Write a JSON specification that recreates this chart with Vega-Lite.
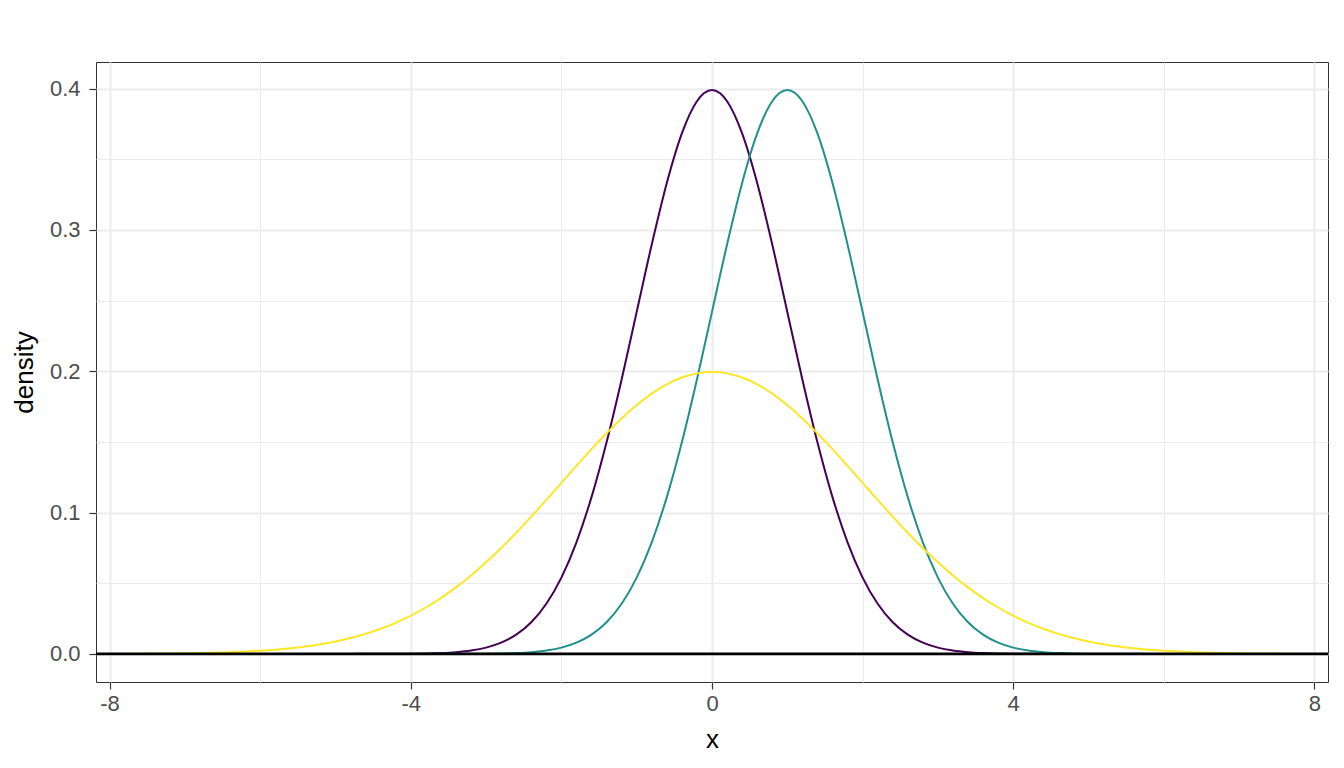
{
  "$schema": "https://vega.github.io/schema/vega-lite/v6.json",
  "autosize": {"type": "none"},
  "width": 1232,
  "height": 620,
  "padding": {"left": 96, "top": 62, "right": 16, "bottom": 86},
  "background": "white",
  "config": {
    "view": {"stroke": "#333333", "strokeWidth": 1},
    "axis": {"labelFont": "Liberation Sans", "titleFont": "Liberation Sans", "labelFontSize": 22, "labelColor": "#4D4D4D", "titleFontSize": 26, "titleFontWeight": "normal", "titleColor": "#000000", "tickColor": "#333333", "tickWidth": 1.2, "tickSize": 7, "domain": false, "gridColor": "#EBEBEB"}
  },
  "datasets": {
    "curves": [
      {"x": -7.8, "y": 0, "dist": "N(0,1)"}, {"x": -7.6, "y": 0, "dist": "N(0,1)"}, {"x": -7.4, "y": 0, "dist": "N(0,1)"}, {"x": -7.2, "y": 0, "dist": "N(0,1)"}, {"x": -7.0, "y": 0, "dist": "N(0,1)"}, {"x": -6.8, "y": 0, "dist": "N(0,1)"}, {"x": -6.6, "y": 0, "dist": "N(0,1)"}, {"x": -6.4, "y": 0, "dist": "N(0,1)"}, {"x": -6.2, "y": 0, "dist": "N(0,1)"}, {"x": -6.0, "y": 0, "dist": "N(0,1)"}, {"x": -5.8, "y": 0, "dist": "N(0,1)"}, {"x": -5.6, "y": 0, "dist": "N(0,1)"}, {"x": -5.4, "y": 0, "dist": "N(0,1)"}, {"x": -5.2, "y": 0, "dist": "N(0,1)"}, {"x": -5.0, "y": 0, "dist": "N(0,1)"}, {"x": -4.8, "y": 0, "dist": "N(0,1)"}, {"x": -4.6, "y": 0.00001, "dist": "N(0,1)"}, {"x": -4.4, "y": 0.00002, "dist": "N(0,1)"}, {"x": -4.2, "y": 0.00006, "dist": "N(0,1)"}, {"x": -4.0, "y": 0.00013, "dist": "N(0,1)"}, {"x": -3.8, "y": 0.00029, "dist": "N(0,1)"}, {"x": -3.6, "y": 0.00061, "dist": "N(0,1)"}, {"x": -3.4, "y": 0.00123, "dist": "N(0,1)"}, {"x": -3.2, "y": 0.00238, "dist": "N(0,1)"}, {"x": -3.0, "y": 0.00443, "dist": "N(0,1)"}, {"x": -2.8, "y": 0.00792, "dist": "N(0,1)"}, {"x": -2.6, "y": 0.01358, "dist": "N(0,1)"}, {"x": -2.4, "y": 0.02239, "dist": "N(0,1)"}, {"x": -2.2, "y": 0.03547, "dist": "N(0,1)"}, {"x": -2.0, "y": 0.05399, "dist": "N(0,1)"}, {"x": -1.8, "y": 0.07895, "dist": "N(0,1)"}, {"x": -1.6, "y": 0.11092, "dist": "N(0,1)"}, {"x": -1.4, "y": 0.14973, "dist": "N(0,1)"}, {"x": -1.2, "y": 0.19419, "dist": "N(0,1)"}, {"x": -1.0, "y": 0.24197, "dist": "N(0,1)"}, {"x": -0.8, "y": 0.28969, "dist": "N(0,1)"}, {"x": -0.6, "y": 0.33322, "dist": "N(0,1)"}, {"x": -0.4, "y": 0.36827, "dist": "N(0,1)"}, {"x": -0.2, "y": 0.39104, "dist": "N(0,1)"}, {"x": 0.0, "y": 0.39894, "dist": "N(0,1)"}, {"x": 0.2, "y": 0.39104, "dist": "N(0,1)"}, {"x": 0.4, "y": 0.36827, "dist": "N(0,1)"}, {"x": 0.6, "y": 0.33322, "dist": "N(0,1)"}, {"x": 0.8, "y": 0.28969, "dist": "N(0,1)"}, {"x": 1.0, "y": 0.24197, "dist": "N(0,1)"}, {"x": 1.2, "y": 0.19419, "dist": "N(0,1)"}, {"x": 1.4, "y": 0.14973, "dist": "N(0,1)"}, {"x": 1.6, "y": 0.11092, "dist": "N(0,1)"}, {"x": 1.8, "y": 0.07895, "dist": "N(0,1)"}, {"x": 2.0, "y": 0.05399, "dist": "N(0,1)"}, {"x": 2.2, "y": 0.03547, "dist": "N(0,1)"}, {"x": 2.4, "y": 0.02239, "dist": "N(0,1)"}, {"x": 2.6, "y": 0.01358, "dist": "N(0,1)"}, {"x": 2.8, "y": 0.00792, "dist": "N(0,1)"}, {"x": 3.0, "y": 0.00443, "dist": "N(0,1)"}, {"x": 3.2, "y": 0.00238, "dist": "N(0,1)"}, {"x": 3.4, "y": 0.00123, "dist": "N(0,1)"}, {"x": 3.6, "y": 0.00061, "dist": "N(0,1)"}, {"x": 3.8, "y": 0.00029, "dist": "N(0,1)"}, {"x": 4.0, "y": 0.00013, "dist": "N(0,1)"}, {"x": 4.2, "y": 0.00006, "dist": "N(0,1)"}, {"x": 4.4, "y": 0.00002, "dist": "N(0,1)"}, {"x": 4.6, "y": 0.00001, "dist": "N(0,1)"}, {"x": 4.8, "y": 0, "dist": "N(0,1)"}, {"x": 5.0, "y": 0, "dist": "N(0,1)"}, {"x": 5.2, "y": 0, "dist": "N(0,1)"}, {"x": 5.4, "y": 0, "dist": "N(0,1)"}, {"x": 5.6, "y": 0, "dist": "N(0,1)"}, {"x": 5.8, "y": 0, "dist": "N(0,1)"}, {"x": 6.0, "y": 0, "dist": "N(0,1)"}, {"x": 6.2, "y": 0, "dist": "N(0,1)"}, {"x": 6.4, "y": 0, "dist": "N(0,1)"}, {"x": 6.6, "y": 0, "dist": "N(0,1)"}, {"x": 6.8, "y": 0, "dist": "N(0,1)"}, {"x": 7.0, "y": 0, "dist": "N(0,1)"}, {"x": 7.2, "y": 0, "dist": "N(0,1)"}, {"x": 7.4, "y": 0, "dist": "N(0,1)"}, {"x": 7.6, "y": 0, "dist": "N(0,1)"}, {"x": 7.8, "y": 0, "dist": "N(0,1)"},

      {"x": -7.8, "y": 0, "dist": "N(1,1)"}, {"x": -7.0, "y": 0, "dist": "N(1,1)"}, {"x": -6.0, "y": 0, "dist": "N(1,1)"}, {"x": -5.0, "y": 0, "dist": "N(1,1)"}, {"x": -4.4, "y": 0, "dist": "N(1,1)"}, {"x": -4.0, "y": 0, "dist": "N(1,1)"}, {"x": -3.8, "y": 0, "dist": "N(1,1)"}, {"x": -3.6, "y": 0.00001, "dist": "N(1,1)"}, {"x": -3.4, "y": 0.00002, "dist": "N(1,1)"}, {"x": -3.2, "y": 0.00006, "dist": "N(1,1)"}, {"x": -3.0, "y": 0.00013, "dist": "N(1,1)"}, {"x": -2.8, "y": 0.00029, "dist": "N(1,1)"}, {"x": -2.6, "y": 0.00061, "dist": "N(1,1)"}, {"x": -2.4, "y": 0.00123, "dist": "N(1,1)"}, {"x": -2.2, "y": 0.00238, "dist": "N(1,1)"}, {"x": -2.0, "y": 0.00443, "dist": "N(1,1)"}, {"x": -1.8, "y": 0.00792, "dist": "N(1,1)"}, {"x": -1.6, "y": 0.01358, "dist": "N(1,1)"}, {"x": -1.4, "y": 0.02239, "dist": "N(1,1)"}, {"x": -1.2, "y": 0.03547, "dist": "N(1,1)"}, {"x": -1.0, "y": 0.05399, "dist": "N(1,1)"}, {"x": -0.8, "y": 0.07895, "dist": "N(1,1)"}, {"x": -0.6, "y": 0.11092, "dist": "N(1,1)"}, {"x": -0.4, "y": 0.14973, "dist": "N(1,1)"}, {"x": -0.2, "y": 0.19419, "dist": "N(1,1)"}, {"x": 0.0, "y": 0.24197, "dist": "N(1,1)"}, {"x": 0.2, "y": 0.28969, "dist": "N(1,1)"}, {"x": 0.4, "y": 0.33322, "dist": "N(1,1)"}, {"x": 0.6, "y": 0.36827, "dist": "N(1,1)"}, {"x": 0.8, "y": 0.39104, "dist": "N(1,1)"}, {"x": 1.0, "y": 0.39894, "dist": "N(1,1)"}, {"x": 1.2, "y": 0.39104, "dist": "N(1,1)"}, {"x": 1.4, "y": 0.36827, "dist": "N(1,1)"}, {"x": 1.6, "y": 0.33322, "dist": "N(1,1)"}, {"x": 1.8, "y": 0.28969, "dist": "N(1,1)"}, {"x": 2.0, "y": 0.24197, "dist": "N(1,1)"}, {"x": 2.2, "y": 0.19419, "dist": "N(1,1)"}, {"x": 2.4, "y": 0.14973, "dist": "N(1,1)"}, {"x": 2.6, "y": 0.11092, "dist": "N(1,1)"}, {"x": 2.8, "y": 0.07895, "dist": "N(1,1)"}, {"x": 3.0, "y": 0.05399, "dist": "N(1,1)"}, {"x": 3.2, "y": 0.03547, "dist": "N(1,1)"}, {"x": 3.4, "y": 0.02239, "dist": "N(1,1)"}, {"x": 3.6, "y": 0.01358, "dist": "N(1,1)"}, {"x": 3.8, "y": 0.00792, "dist": "N(1,1)"}, {"x": 4.0, "y": 0.00443, "dist": "N(1,1)"}, {"x": 4.2, "y": 0.00238, "dist": "N(1,1)"}, {"x": 4.4, "y": 0.00123, "dist": "N(1,1)"}, {"x": 4.6, "y": 0.00061, "dist": "N(1,1)"}, {"x": 4.8, "y": 0.00029, "dist": "N(1,1)"}, {"x": 5.0, "y": 0.00013, "dist": "N(1,1)"}, {"x": 5.2, "y": 0.00006, "dist": "N(1,1)"}, {"x": 5.4, "y": 0.00002, "dist": "N(1,1)"}, {"x": 5.6, "y": 0.00001, "dist": "N(1,1)"}, {"x": 5.8, "y": 0, "dist": "N(1,1)"}, {"x": 6.0, "y": 0, "dist": "N(1,1)"}, {"x": 6.4, "y": 0, "dist": "N(1,1)"}, {"x": 7.0, "y": 0, "dist": "N(1,1)"}, {"x": 7.8, "y": 0, "dist": "N(1,1)"},

      {"x": -7.8, "y": 0.00010, "dist": "N(0,2)"}, {"x": -7.6, "y": 0.00014, "dist": "N(0,2)"}, {"x": -7.4, "y": 0.00021, "dist": "N(0,2)"}, {"x": -7.2, "y": 0.00031, "dist": "N(0,2)"}, {"x": -7.0, "y": 0.00044, "dist": "N(0,2)"}, {"x": -6.8, "y": 0.00062, "dist": "N(0,2)"}, {"x": -6.6, "y": 0.00086, "dist": "N(0,2)"}, {"x": -6.4, "y": 0.00119, "dist": "N(0,2)"}, {"x": -6.2, "y": 0.00163, "dist": "N(0,2)"}, {"x": -6.0, "y": 0.00222, "dist": "N(0,2)"}, {"x": -5.8, "y": 0.00298, "dist": "N(0,2)"}, {"x": -5.6, "y": 0.00396, "dist": "N(0,2)"}, {"x": -5.4, "y": 0.00521, "dist": "N(0,2)"}, {"x": -5.2, "y": 0.00679, "dist": "N(0,2)"}, {"x": -5.0, "y": 0.00876, "dist": "N(0,2)"}, {"x": -4.8, "y": 0.01120, "dist": "N(0,2)"}, {"x": -4.6, "y": 0.01417, "dist": "N(0,2)"}, {"x": -4.4, "y": 0.01774, "dist": "N(0,2)"}, {"x": -4.2, "y": 0.02199, "dist": "N(0,2)"}, {"x": -4.0, "y": 0.02700, "dist": "N(0,2)"}, {"x": -3.8, "y": 0.03281, "dist": "N(0,2)"}, {"x": -3.6, "y": 0.03948, "dist": "N(0,2)"}, {"x": -3.4, "y": 0.04702, "dist": "N(0,2)"}, {"x": -3.2, "y": 0.05546, "dist": "N(0,2)"}, {"x": -3.0, "y": 0.06476, "dist": "N(0,2)"}, {"x": -2.8, "y": 0.07486, "dist": "N(0,2)"}, {"x": -2.6, "y": 0.08569, "dist": "N(0,2)"}, {"x": -2.4, "y": 0.09710, "dist": "N(0,2)"}, {"x": -2.2, "y": 0.10893, "dist": "N(0,2)"}, {"x": -2.0, "y": 0.12099, "dist": "N(0,2)"}, {"x": -1.8, "y": 0.13304, "dist": "N(0,2)"}, {"x": -1.6, "y": 0.14485, "dist": "N(0,2)"}, {"x": -1.4, "y": 0.15613, "dist": "N(0,2)"}, {"x": -1.2, "y": 0.16661, "dist": "N(0,2)"}, {"x": -1.0, "y": 0.17603, "dist": "N(0,2)"}, {"x": -0.8, "y": 0.18414, "dist": "N(0,2)"}, {"x": -0.6, "y": 0.19070, "dist": "N(0,2)"}, {"x": -0.4, "y": 0.19552, "dist": "N(0,2)"}, {"x": -0.2, "y": 0.19848, "dist": "N(0,2)"}, {"x": 0.0, "y": 0.19947, "dist": "N(0,2)"}, {"x": 0.2, "y": 0.19848, "dist": "N(0,2)"}, {"x": 0.4, "y": 0.19552, "dist": "N(0,2)"}, {"x": 0.6, "y": 0.19070, "dist": "N(0,2)"}, {"x": 0.8, "y": 0.18414, "dist": "N(0,2)"}, {"x": 1.0, "y": 0.17603, "dist": "N(0,2)"}, {"x": 1.2, "y": 0.16661, "dist": "N(0,2)"}, {"x": 1.4, "y": 0.15613, "dist": "N(0,2)"}, {"x": 1.6, "y": 0.14485, "dist": "N(0,2)"}, {"x": 1.8, "y": 0.13304, "dist": "N(0,2)"}, {"x": 2.0, "y": 0.12099, "dist": "N(0,2)"}, {"x": 2.2, "y": 0.10893, "dist": "N(0,2)"}, {"x": 2.4, "y": 0.09710, "dist": "N(0,2)"}, {"x": 2.6, "y": 0.08569, "dist": "N(0,2)"}, {"x": 2.8, "y": 0.07486, "dist": "N(0,2)"}, {"x": 3.0, "y": 0.06476, "dist": "N(0,2)"}, {"x": 3.2, "y": 0.05546, "dist": "N(0,2)"}, {"x": 3.4, "y": 0.04702, "dist": "N(0,2)"}, {"x": 3.6, "y": 0.03948, "dist": "N(0,2)"}, {"x": 3.8, "y": 0.03281, "dist": "N(0,2)"}, {"x": 4.0, "y": 0.02700, "dist": "N(0,2)"}, {"x": 4.2, "y": 0.02199, "dist": "N(0,2)"}, {"x": 4.4, "y": 0.01774, "dist": "N(0,2)"}, {"x": 4.6, "y": 0.01417, "dist": "N(0,2)"}, {"x": 4.8, "y": 0.01120, "dist": "N(0,2)"}, {"x": 5.0, "y": 0.00876, "dist": "N(0,2)"}, {"x": 5.2, "y": 0.00679, "dist": "N(0,2)"}, {"x": 5.4, "y": 0.00521, "dist": "N(0,2)"}, {"x": 5.6, "y": 0.00396, "dist": "N(0,2)"}, {"x": 5.8, "y": 0.00298, "dist": "N(0,2)"}, {"x": 6.0, "y": 0.00222, "dist": "N(0,2)"}, {"x": 6.2, "y": 0.00163, "dist": "N(0,2)"}, {"x": 6.4, "y": 0.00119, "dist": "N(0,2)"}, {"x": 6.6, "y": 0.00086, "dist": "N(0,2)"}, {"x": 6.8, "y": 0.00062, "dist": "N(0,2)"}, {"x": 7.0, "y": 0.00044, "dist": "N(0,2)"}, {"x": 7.2, "y": 0.00031, "dist": "N(0,2)"}, {"x": 7.4, "y": 0.00021, "dist": "N(0,2)"}, {"x": 7.6, "y": 0.00014, "dist": "N(0,2)"}, {"x": 7.8, "y": 0.00010, "dist": "N(0,2)"}
    ],
    "baseline": [{"y": 0}]
  },
  "layer": [
    {
      "data": {"name": "curves"},
      "mark": {"type": "line", "strokeOpacity": 0, "interpolate": "monotone"},
      "encoding": {
        "x": {"field": "x", "type": "quantitative", "scale": {"domain": [-8.18, 8.18], "nice": false, "zero": false},
              "axis": {"orient": "top", "values": [-6, -2, 2, 6], "labels": false, "ticks": false, "title": null, "grid": true, "gridWidth": 1}},
        "y": {"field": "y", "type": "quantitative", "scale": {"domain": [-0.0199, 0.4188], "nice": false, "zero": false},
              "axis": {"orient": "right", "values": [0.05, 0.15, 0.25, 0.35], "labels": false, "ticks": false, "title": null, "grid": true, "gridWidth": 1}},
        "detail": {"field": "dist", "type": "nominal"}
      }
    },
    {
      "data": {"name": "curves"},
      "mark": {"type": "line", "strokeWidth": 2, "interpolate": "monotone"},
      "encoding": {
        "x": {"field": "x", "type": "quantitative",
              "axis": {"orient": "bottom", "values": [-8, -4, 0, 4, 8], "labelExpr": "toString(datum.value)", "title": "x", "grid": true, "gridWidth": 2, "labelPadding": 4, "titlePadding": 12}},
        "y": {"field": "y", "type": "quantitative",
              "axis": {"orient": "left", "values": [0, 0.1, 0.2, 0.3, 0.4], "format": ".1f", "title": "density", "grid": true, "gridWidth": 2, "labelPadding": 9, "titlePadding": 12}},
        "color": {"field": "dist", "type": "nominal", "legend": null,
                  "scale": {"domain": ["N(0,1)", "N(1,1)", "N(0,2)"], "range": ["#440154", "#21908C", "#FDE725"]}}
      }
    },
    {
      "data": {"name": "baseline"},
      "mark": {"type": "rule", "color": "#000000", "strokeWidth": 2.8},
      "encoding": {"y": {"field": "y", "type": "quantitative", "axis": null}}
    }
  ],
  "resolve": {"axis": {"x": "independent", "y": "independent"}}
}
